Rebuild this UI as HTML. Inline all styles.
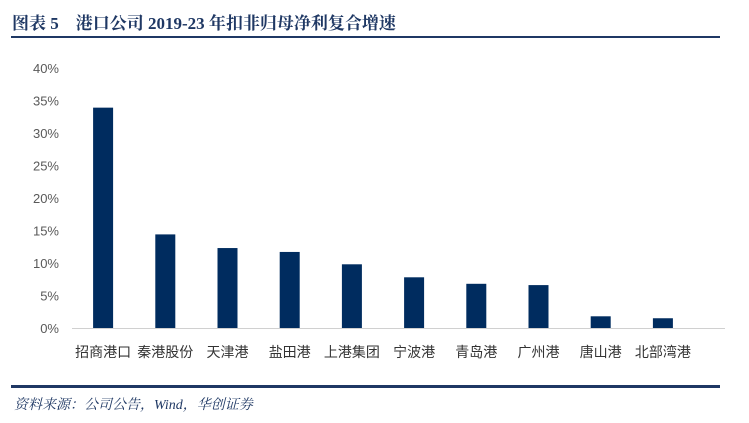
<!DOCTYPE html>
<html><head><meta charset="utf-8"><style>
body{margin:0;background:#fff;}
svg{display:block;font-family:"Liberation Sans","Noto Sans CJK SC",sans-serif;}
</style></head><body>
<svg width="749" height="423">
<text x="12" y="29" font-family="'Liberation Serif','Noto Serif CJK SC',serif" font-weight="bold" font-size="17" fill="#1f3864">图表 5　港口公司 2019-23 年扣非归母净利复合增速</text>
<rect x="11" y="36" width="709" height="2" fill="#1f3864"/>
<g id="yaxis"></g>
<g id="bars"></g>
<g id="xlabels"></g>
<line x1="72" y1="328.5" x2="725" y2="328.5" stroke="#d0d0d0" stroke-width="1"/>
<rect x="11" y="385" width="709" height="3" fill="#1f3864"/>
<text x="14" y="409" font-family="'Liberation Serif','Noto Serif CJK SC',serif" font-style="italic" font-size="14" fill="#1f3864">资料来源：公司公告，Wind，华创证券</text>
</svg>
<script>
const categories=["招商港口","秦港股份","天津港","盐田港","上港集团","宁波港","青岛港","广州港","唐山港","北部湾港"];
const values=[33.9,14.4,12.3,11.7,9.8,7.8,6.8,6.6,1.8,1.5];
const yTicks=[0,5,10,15,20,25,30,35,40];
const ns="http://www.w3.org/2000/svg";
const y0=328,yTop=68,yMax=40;
const y=v=>y0-(v/yMax)*(y0-yTop);
const xStart=72,step=62.2;
const xc=i=>xStart+step*(i+0.5);
const ya=document.getElementById('yaxis'),bg=document.getElementById('bars'),xl=document.getElementById('xlabels');
yTicks.forEach(t=>{const e=document.createElementNS(ns,'text');


e.setAttribute('x',59);e.setAttribute('y',y(t)+5);e.setAttribute('text-anchor','end');e.setAttribute('font-size','13');e.setAttribute('fill','#595959');e.textContent=t+'%';ya.appendChild(e);});
values.forEach((v,i)=>{const r=document.createElementNS(ns,'rect');


r.setAttribute('x',xc(i)-10);r.setAttribute('width',20);r.setAttribute('y',y(v));r.setAttribute('height',y0-y(v));r.setAttribute('fill','#002c5f');bg.appendChild(r);
const t=document.createElementNS(ns,'text');


t.setAttribute('x',xc(i));t.setAttribute('y',357);t.setAttribute('text-anchor','middle');t.setAttribute('font-size','14');t.setAttribute('fill','#333');t.textContent=categories[i];xl.appendChild(t);});
</script>
</body></html>
